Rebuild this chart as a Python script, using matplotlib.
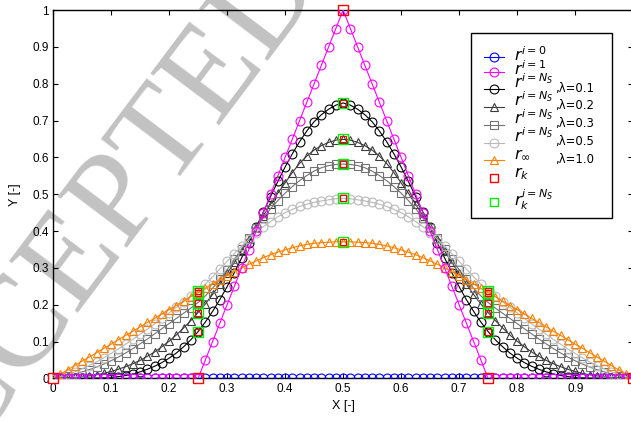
import numpy as np
import matplotlib
matplotlib.use("Agg")
import matplotlib.pyplot as plt
from matplotlib.lines import Line2D
from matplotlib.patches import Rectangle

plt.rcParams["mathtext.fontset"] = "dejavusans"

# grid of 81 nodes on [0, 1]
x = np.linspace(0.0, 1.0, 81)

r_i0 = [0, 0, 0, 0, 0, 0, 0, 0, 0, 0, 0, 0, 0, 0, 0, 0, 0, 0, 0, 0,
        0, 0, 0, 0, 0, 0, 0, 0, 0, 0, 0, 0, 0, 0, 0, 0, 0, 0, 0, 0,
        0, 0, 0, 0, 0, 0, 0, 0, 0, 0, 0, 0, 0, 0, 0, 0, 0, 0, 0, 0,
        0, 0, 0, 0, 0, 0, 0, 0, 0, 0, 0, 0, 0, 0, 0, 0, 0, 0, 0, 0, 0]

r_i1 = [0, 0, 0, 0, 0, 0, 0, 0, 0, 0, 0, 0, 0, 0, 0, 0, 0, 0, 0, 0, 0,
        0.05, 0.10, 0.15, 0.20, 0.25, 0.30, 0.35, 0.40, 0.45, 0.50,
        0.55, 0.60, 0.65, 0.70, 0.75, 0.80, 0.85, 0.90, 0.95, 1.00,
        0.95, 0.90, 0.85, 0.80, 0.75, 0.70, 0.65, 0.60, 0.55, 0.50,
        0.45, 0.40, 0.35, 0.30, 0.25, 0.20, 0.15, 0.10, 0.05,
        0, 0, 0, 0, 0, 0, 0, 0, 0, 0, 0, 0, 0, 0, 0, 0, 0, 0, 0, 0, 0]

r_l01 = [0, 0, 0, 0, 0, 0.001, 0.001, 0.002, 0.003, 0.005,
         0.008, 0.012, 0.018, 0.025, 0.033, 0.043, 0.055, 0.069, 0.086, 0.105,
         0.127, 0.153, 0.182, 0.214, 0.249, 0.287, 0.327, 0.368, 0.410, 0.452,
         0.494, 0.535, 0.574, 0.610, 0.643, 0.672, 0.697, 0.716, 0.731, 0.742,
         0.748,
         0.742, 0.731, 0.716, 0.697, 0.672, 0.643, 0.610, 0.574, 0.535, 0.494,
         0.452, 0.410, 0.368, 0.327, 0.287, 0.249, 0.214, 0.182, 0.153, 0.127,
         0.105, 0.086, 0.069, 0.055, 0.043, 0.033, 0.025, 0.018, 0.012, 0.008,
         0.005, 0.003, 0.002, 0.001, 0.001, 0, 0, 0, 0, 0]

r_l02 = [0, 0.001, 0.002, 0.003, 0.005, 0.007, 0.010, 0.014, 0.019, 0.025,
         0.032, 0.040, 0.049, 0.060, 0.072, 0.086, 0.101, 0.118, 0.137, 0.157,
         0.179, 0.202, 0.228, 0.256, 0.285, 0.315, 0.346, 0.378, 0.410, 0.442,
         0.473, 0.503, 0.531, 0.559, 0.584, 0.604, 0.620, 0.632, 0.641, 0.647,
         0.649,
         0.647, 0.641, 0.632, 0.620, 0.604, 0.584, 0.559, 0.531, 0.503, 0.473,
         0.442, 0.410, 0.378, 0.346, 0.315, 0.285, 0.256, 0.228, 0.202, 0.179,
         0.157, 0.137, 0.118, 0.101, 0.086, 0.072, 0.060, 0.049, 0.040, 0.032,
         0.025, 0.019, 0.014, 0.010, 0.007, 0.005, 0.003, 0.002, 0.001, 0]

r_l03 = [0, 0.003, 0.007, 0.012, 0.018, 0.024, 0.031, 0.039, 0.048, 0.058,
         0.069, 0.081, 0.094, 0.107, 0.121, 0.135, 0.149, 0.163, 0.177, 0.191,
         0.206, 0.224, 0.245, 0.269, 0.295, 0.323, 0.352, 0.381, 0.409, 0.436,
         0.461, 0.483, 0.503, 0.521, 0.537, 0.551, 0.563, 0.572, 0.578, 0.581,
         0.582,
         0.581, 0.578, 0.572, 0.563, 0.551, 0.537, 0.521, 0.503, 0.483, 0.461,
         0.436, 0.409, 0.381, 0.352, 0.323, 0.295, 0.269, 0.245, 0.224, 0.206,
         0.191, 0.177, 0.163, 0.149, 0.135, 0.121, 0.107, 0.094, 0.081, 0.069,
         0.058, 0.048, 0.039, 0.031, 0.024, 0.018, 0.012, 0.007, 0.003, 0]

r_l05 = [0, 0.005, 0.011, 0.018, 0.026, 0.035, 0.045, 0.056, 0.068, 0.080,
         0.093, 0.106, 0.120, 0.134, 0.148, 0.163, 0.178, 0.193, 0.208, 0.223,
         0.238, 0.256, 0.276, 0.297, 0.318, 0.339, 0.359, 0.378, 0.396, 0.412,
         0.426, 0.439, 0.450, 0.459, 0.467, 0.473, 0.478, 0.482, 0.485, 0.488,
         0.489,
         0.488, 0.485, 0.482, 0.478, 0.473, 0.467, 0.459, 0.450, 0.439, 0.426,
         0.412, 0.396, 0.378, 0.359, 0.339, 0.318, 0.297, 0.276, 0.256, 0.238,
         0.223, 0.208, 0.193, 0.178, 0.163, 0.148, 0.134, 0.120, 0.106, 0.093,
         0.080, 0.068, 0.056, 0.045, 0.035, 0.026, 0.018, 0.011, 0.005, 0]

r_l10 = [0, 0.012, 0.023, 0.035, 0.047, 0.058, 0.070, 0.082, 0.093, 0.105,
         0.117, 0.128, 0.140, 0.152, 0.163, 0.175, 0.187, 0.198, 0.210, 0.222,
         0.233, 0.245, 0.257, 0.268, 0.279, 0.290, 0.300, 0.310, 0.319, 0.328,
         0.336, 0.343, 0.349, 0.355, 0.360, 0.364, 0.367, 0.369, 0.370, 0.371,
         0.371,
         0.371, 0.370, 0.369, 0.367, 0.364, 0.360, 0.355, 0.349, 0.343, 0.336,
         0.328, 0.319, 0.310, 0.300, 0.290, 0.279, 0.268, 0.257, 0.245, 0.233,
         0.222, 0.210, 0.198, 0.187, 0.175, 0.163, 0.152, 0.140, 0.128, 0.117,
         0.105, 0.093, 0.082, 0.070, 0.058, 0.047, 0.035, 0.023, 0.012, 0]

# coarse knots (every 20th node)
knot_idx = [0, 20, 40, 60, 80]
inner_idx = [20, 40, 60]

x_ticks = [0, 0.1, 0.2, 0.3, 0.4, 0.5, 0.6, 0.7, 0.8, 0.9]
x_ticklabels = ["0", "0.1", "0.2", "0.3", "0.4", "0.5", "0.6", "0.7", "0.8", "0.9"]
y_ticks = [0, 0.1, 0.2, 0.3, 0.4, 0.5, 0.6, 0.7, 0.8, 0.9, 1.0]
y_ticklabels = ["0", "0.1", "0.2", "0.3", "0.4", "0.5", "0.6", "0.7", "0.8", "0.9", "1"]

W, H = 631, 421
fig = plt.figure(figsize=(W / 100, H / 100), dpi=100)
fig.patch.set_facecolor("white")


def fpos(px, py):
    """pixel position (from top-left) -> figure fraction"""
    return px / W, 1 - py / H


# background stamp
fig.text(0.512, 1.033, "ACCEPTED", fontsize=95, family="Liberation Serif",
         color="#c2c2c2", rotation=53, rotation_mode="anchor",
         ha="right", va="baseline", zorder=0)

ax = fig.add_axes([0.084, 0.101, 0.9195, 0.875])
ax.set_facecolor("none")
ax.set_zorder(1)

lw = 0.8
ms = 6.4
mew = 0.8

styles = [
    dict(marker="o", color="#0000ff"),
    dict(marker="o", color="#ff00ff"),
    dict(marker="o", color="#000000"),
    dict(marker="^", color="#3c3c3c"),
    dict(marker="s", color="#737373"),
    dict(marker="o", color="#b9b9b9"),
    dict(marker="^", color="#ff8000"),
]
series = [r_i0, r_i1, r_l01, r_l02, r_l03, r_l05, r_l10]
zorders = [4, 5, 3, 3, 3, 3, 3]

for vals, st, z in zip(series, styles, zorders):
    ax.plot(x, vals, "-", lw=lw, ms=ms, mew=mew, mfc="none", zorder=z, **st)

xk = [x[i] for i in knot_idx]
rk = [r_i1[i] for i in knot_idx]
ax.plot(xk, rk, "s", color="#ff0000", ms=6.5, mew=1.0, mfc="none",
        zorder=6, clip_on=False)
xin = [x[i] for i in inner_idx]
for vals in series[2:]:
    yin = [vals[i] for i in inner_idx]
    ax.plot(xin, yin, "s", color="#00ee00", ms=6.8, mew=1.0, mfc="none", zorder=6)
    ax.plot(xin, yin, "s", color="#ff0000", ms=4.6, mew=0.8, mfc="none", zorder=7)

ax.set_xlim(0, 1)
ax.set_ylim(0, 1)
ax.set_xticks(x_ticks)
ax.set_xticklabels(x_ticklabels)
ax.set_yticks(y_ticks)
ax.set_yticklabels(y_ticklabels)
ax.tick_params(direction="in", length=3.5, width=0.8, top=True, right=True,
               labelsize=8.5, pad=3)
for lbl in ax.get_xticklabels() + ax.get_yticklabels():
    lbl.set_family("Liberation Sans")
for sp in ax.spines.values():
    sp.set_linewidth(1.0)

ax.set_xlabel("X [-]", family="Liberation Sans", fontsize=9, labelpad=4)
ax.set_ylabel("Y [-]", family="Liberation Sans", fontsize=9, labelpad=8)

# ---- legend box, laid out row by row ----
x0, y0 = fpos(471, 218)
x1, y1 = fpos(612, 33)
fig.add_artist(Rectangle((x0, y0), x1 - x0, y1 - y0, transform=fig.transFigure,
                         facecolor="white", edgecolor="black", lw=1.0, zorder=5))

labels = [r"$r^{i=0}$", r"$r^{i=1}$",
          r"$r^{i=N_S}$", r"$r^{i=N_S}$", r"$r^{i=N_S}$", r"$r^{i=N_S}$",
          r"$r_{\infty}$", r"$r_k$", r"$r_k^{i=N_S}$"]
tails = ["", "", ",λ=0.1", ",λ=0.2", ",λ=0.3", ",λ=0.5", ",λ=1.0", "", ""]
handle_y = [57.3, 71.7, 89.0, 107.3, 125.0, 142.7, 160.0, 178.3, 201.7]
base_y = [61.5, 75.0, 88.5, 106.0, 124.0, 141.5, 159.0, 177.0, 205.0]

for k in range(9):
    hy = handle_y[k]
    if k < 7:
        st = styles[k]
        lx0, ly = fpos(484, hy)
        lx1, _ = fpos(504, hy)
        fig.add_artist(Line2D([lx0, lx1], [ly, ly], transform=fig.transFigure,
                              color=st["color"], lw=lw, zorder=6))
        mx, _ = fpos(494, hy)
        fig.add_artist(Line2D([mx], [ly], transform=fig.transFigure, ls="none",
                              marker=st["marker"], color=st["color"], ms=ms,
                              mew=mew, mfc="none", zorder=6))
    else:
        mx, my = fpos(494, hy)
        col = "#ff0000" if k == 7 else "#00ee00"
        fig.add_artist(Line2D([mx], [my], transform=fig.transFigure, ls="none",
                              marker="s", color=col, ms=5.8, mew=1.0,
                              mfc="none", zorder=6))
    tx, ty = fpos(514, base_y[k])
    fig.text(tx, ty, labels[k], fontsize=11.5, ha="left", va="baseline", zorder=7)
    if tails[k]:
        sx, sy = fpos(555, base_y[k] + 3.5)
        fig.text(sx, sy, tails[k], fontsize=8.4, family="DejaVu Sans",
                 ha="left", va="baseline", zorder=7)

fig.savefig("out.png", dpi=100)
